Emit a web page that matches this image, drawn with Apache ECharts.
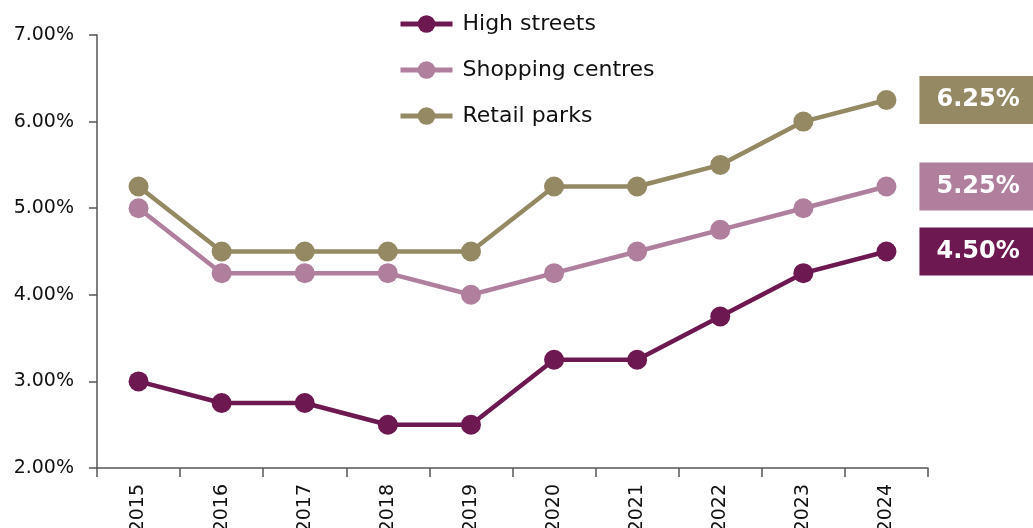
<!DOCTYPE html>
<html>
<head>
<meta charset="utf-8">
<script src="https://cdn.jsdelivr.net/npm/echarts@6/dist/echarts.min.js"></script>
<style>
html,body{margin:0;padding:0;background:#fff}
#chart{width:1033px;height:528px}
</style>
</head>
<body>
<div id="chart"></div>
<script>
// 数据
var years = ['2015','2016','2017','2018','2019','2020','2021','2022','2023','2024']
var highStreets = [3.00, 2.75, 2.75, 2.50, 2.50, 3.25, 3.25, 3.75, 4.25, 4.50]
var shoppingCentres = [5.00, 4.25, 4.25, 4.25, 4.00, 4.25, 4.50, 4.75, 5.00, 5.25]
var retailParks = [5.25, 4.50, 4.50, 4.50, 4.50, 5.25, 5.25, 5.50, 6.00, 6.25]
var names = ['High streets','Shopping centres','Retail parks']
var colors = ['#6e1852','#b07f9e','#958963']

var echart = echarts.init(document.getElementById('chart'))

const makeSeries=(name,data,color)=>({
    name:name,
    type:'line',
    data:data,
    symbol:'circle',
    symbolSize:20,
    color:color,
    lineStyle:{width:4.5,color:color},
    itemStyle:{color:color},
    endLabel:{
        show:true,
        distance:33,
        formatter:p=>p.value.toFixed(2)+'%',
        color:'#fff',
        fontFamily:'DejaVu Sans',
        fontWeight:'bold',
        fontSize:24,
        lineHeight:30,
        backgroundColor:color,
        padding:[9,16,9,17]
    }
})

var options = {
    animation:false,
    legend:{
        orient:'vertical',
        left:393,
        top:8,
        itemWidth:52,
        itemHeight:22,
        itemGap:24,
        lineStyle:{width:5},
        textStyle:{fontFamily:'DejaVu Sans',fontSize:22,color:'#111',padding:[0,0,0,5]},
        data:names
    },
    grid:{left:97,right:105,top:35,bottom:60,containLabel:false,outerBoundsMode:'none'},
    xAxis:{
        type:'category',
        data:years,
        boundaryGap:true,
        axisLine:{lineStyle:{color:'#555',width:1.5}},
        axisTick:{show:true,length:9,lineStyle:{color:'#555',width:1.5}},
        axisLabel:{rotate:90,fontFamily:'DejaVu Sans',fontSize:19,color:'#111',margin:16}
    },
    yAxis:{
        type:'value',
        min:2,
        max:7,
        interval:1,
        splitLine:{show:false},
        axisLine:{show:true,lineStyle:{color:'#555',width:1.5}},
        axisTick:{show:true,length:8,lineStyle:{color:'#555',width:1.5}},
        axisLabel:{formatter:v=>v.toFixed(2)+'%',fontFamily:'DejaVu Sans',fontSize:19,color:'#111',margin:23}
    },
    series:[
        makeSeries(names[0],highStreets,colors[0]),
        makeSeries(names[1],shoppingCentres,colors[1]),
        makeSeries(names[2],retailParks,colors[2])
    ]
}
echart.setOption(options)
</script>
</body>
</html>
